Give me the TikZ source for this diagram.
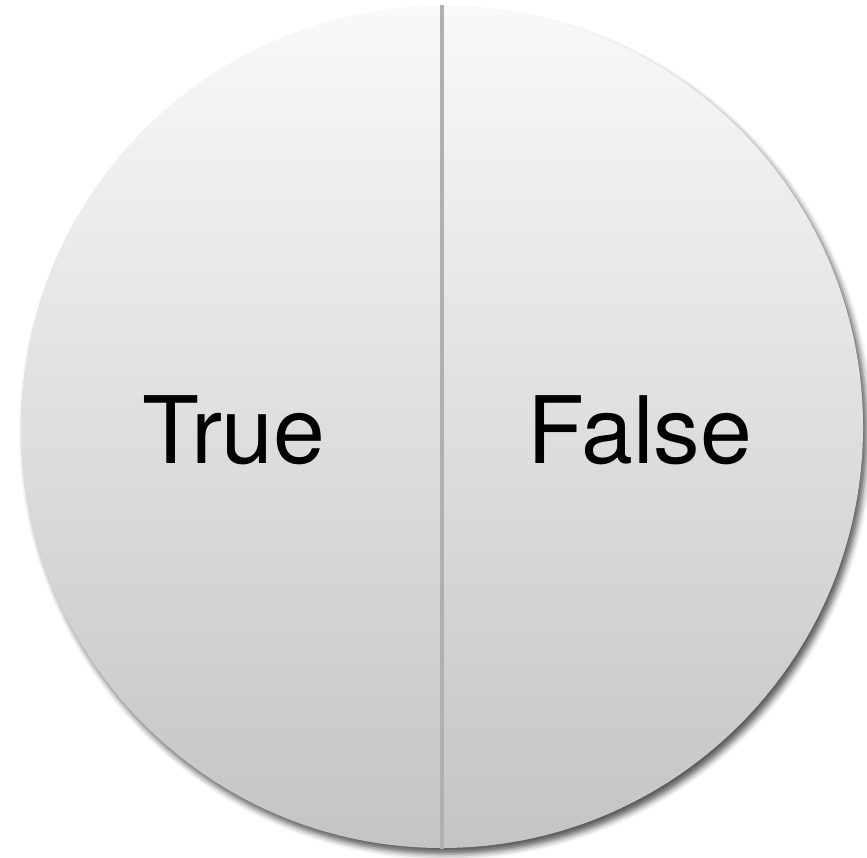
\documentclass[tikz,border=0pt]{standalone}
\usepackage{fontspec}
\setmainfont{TeX Gyre Heros}
\usetikzlibrary{shadows.blur}
\definecolor{disktop}{RGB}{249,249,249}
\definecolor{diskbot}{RGB}{196,196,196}
\definecolor{rule}{RGB}{176,176,176}
\begin{document}
\begin{tikzpicture}
   \useasboundingbox (0,0) rectangle (8.67,8.57);
   \node[circle,minimum size=8.42cm,inner sep=0pt,top color=disktop,bottom color=diskbot,
         blur shadow={shadow xshift=0.04cm,shadow yshift=-0.06cm,shadow blur radius=0.06cm,shadow opacity=65}]
         (disk) at (4.42,4.30) {};
   \draw[rule,line width=1pt] (disk.north) -- (disk.south);
   \foreach \x/\l/\n in
     { 2.34/True/true,
       6.40/False/false
     }
     \node[anchor=base,font=\fontsize{26.5}{30}\selectfont,inner sep=0pt] (\n) at (\x,3.94) {\l};
\end{tikzpicture}
\end{document}
